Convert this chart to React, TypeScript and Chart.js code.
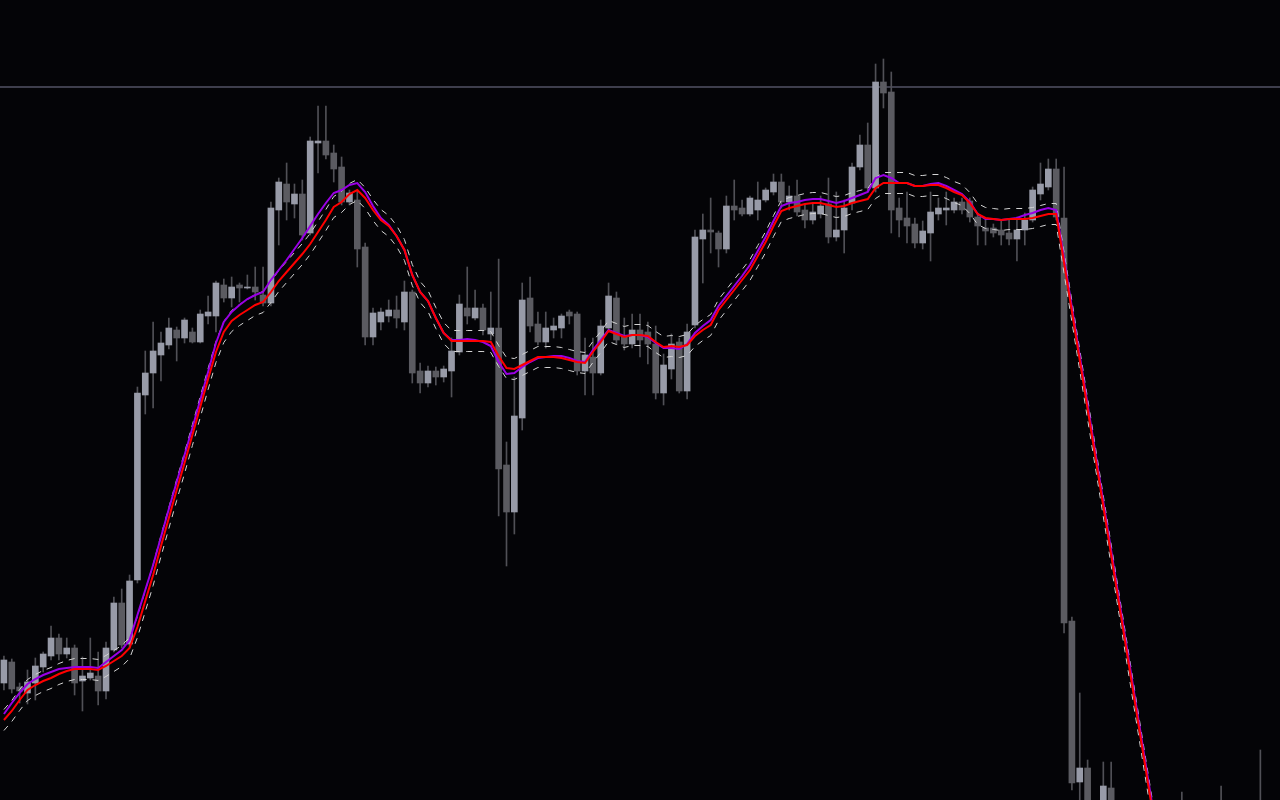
import React, { useEffect, useRef } from "react";
import { Chart, registerables } from "chart.js";

Chart.register(...registerables);

// ---- Data (price in chart points; 163 bars) ----
const OPEN: number[] = [
  117, 138, 113, 107, 117, 133, 144, 162, 146, 152,
  119, 122, 124, 109, 150, 197, 156, 220, 405, 427,
  445, 455, 470, 462, 468, 458, 484, 484, 515, 502,
  515, 512, 513, 505, 497, 590, 616, 596, 606, 567,
  657, 659, 647, 633, 598, 600, 553, 463, 478, 484,
  490, 478, 508, 429, 417, 429, 423, 429, 448, 492,
  482, 492, 466, 472, 335, 288, 382, 502, 476, 458,
  470, 472, 488, 486, 429, 443, 427, 472, 502, 464,
  456, 470, 468, 456, 407, 431, 458, 409, 475, 561,
  570, 567, 551, 594, 592, 586, 590, 600, 608, 618,
  598, 604, 590, 580, 586, 596, 563, 570, 597, 633,
  655, 612, 718, 708, 592, 582, 576, 557, 567, 586,
  590, 590, 598, 599, 583, 572, 572, 570, 567, 561,
  570, 580, 606, 613, 631, 582, 179, 18, 32, -20,
  -15, 12, -18, -30, -22, -36, -28, -34, -26, -32,
  -20, -28, -18, -26, -16, -22, -12, -20, -14, -22,
  -12, -6, -16,
];

const CLOSE: number[] = [
  140, 111, 109, 118, 134, 146, 162, 146, 152, 117,
  124, 127, 109, 152, 197, 155, 219, 407, 427, 449,
  457, 472, 462, 480, 458, 486, 488, 517, 502, 513,
  512, 513, 508, 497, 592, 618, 598, 606, 565, 659,
  659, 645, 631, 598, 607, 551, 463, 487, 488, 490,
  482, 508, 427, 417, 429, 423, 431, 449, 496, 484,
  492, 470, 472, 331, 288, 384, 500, 474, 458, 472,
  474, 484, 484, 429, 445, 427, 474, 504, 460, 456,
  470, 460, 456, 407, 435, 456, 409, 468, 563, 570,
  568, 551, 594, 590, 586, 602, 600, 610, 618, 598,
  604, 588, 580, 588, 594, 563, 570, 592, 633, 655,
  612, 718, 707, 590, 580, 574, 557, 569, 588, 592,
  592, 598, 590, 583, 574, 569, 567, 565, 561, 570,
  580, 610, 616, 631, 583, 177, 17, 32, -10, -40,
  14, -15, -30, -22, -36, -28, -34, -26, -32, -20,
  -28, -18, -26, -16, -22, -12, -20, -14, -22, -12,
  -6, -16, -10,
];

const HIGH: number[] = [
  144, 141, 117, 130, 142, 148, 174, 166, 162, 155,
  143, 162, 148, 158, 203, 211, 225, 413, 449, 478,
  468, 482, 473, 482, 472, 490, 504, 519, 521, 523,
  517, 525, 533, 533, 598, 622, 637, 616, 620, 663,
  694, 694, 655, 643, 610, 610, 557, 492, 492, 500,
  504, 519, 510, 437, 434, 433, 434, 462, 505, 533,
  510, 496, 508, 541, 358, 423, 517, 523, 488, 488,
  482, 486, 490, 488, 462, 462, 480, 517, 508, 482,
  486, 486, 478, 474, 446, 466, 462, 476, 570, 586,
  602, 569, 604, 620, 600, 604, 618, 612, 626, 626,
  614, 620, 596, 596, 604, 622, 608, 600, 637, 665,
  677, 736, 741, 728, 602, 608, 582, 579, 608, 602,
  608, 602, 602, 602, 587, 581, 576, 580, 580, 583,
  587, 613, 637, 641, 641, 633, 183, 107, 40, -5,
  38, 38, -8, -12, -10, -15, -12, -18, -10, -14,
  8, -12, -6, -10, -4, 14, -2, -6, -2, -8,
  50, -2, -4,
];

const LOW: number[] = [
  110, 107, 97, 96, 100, 128, 140, 140, 142, 105,
  89, 120, 95, 101, 148, 152, 152, 217, 386, 392,
  419, 451, 439, 457, 457, 457, 476, 468, 498, 493,
  498, 511, 500, 494, 494, 555, 580, 582, 560, 565,
  627, 641, 618, 595, 595, 533, 455, 455, 470, 478,
  472, 470, 417, 407, 413, 415, 418, 403, 445, 476,
  480, 465, 460, 284, 234, 266, 370, 468, 455, 452,
  462, 462, 476, 425, 405, 405, 425, 468, 456, 450,
  452, 443, 436, 401, 395, 421, 407, 401, 472, 517,
  547, 533, 547, 580, 584, 584, 580, 598, 605, 592,
  590, 584, 572, 576, 582, 557, 559, 547, 590, 630,
  608, 608, 692, 567, 563, 557, 552, 551, 539, 580,
  575, 587, 586, 578, 555, 555, 563, 555, 555, 539,
  555, 578, 600, 610, 580, 167, 10, -5, -15, -50,
  -20, -25, -40, -48, -45, -50, -42, -52, -40, -46,
  -38, -42, -35, -40, -32, -36, -30, -34, -28, -36,
  -30, -24, -30,
];

// slow moving average (red)
const MA_SLOW: (number | null)[] = [
  80, 89, 100, 110, 115, 119, 122, 126, 129, 131,
  131, 131, 130, 134, 139, 144, 152, 173, 199, 225,
  254, 282, 310, 337, 365, 393, 421, 448, 468, 479,
  485, 490, 495, 498, 508, 519, 528, 537, 546, 556,
  568, 580, 593, 598, 606, 610, 602, 590, 580, 574,
  564, 550, 525, 508, 499, 482, 467, 459, 459, 459,
  459, 459, 458, 444, 432, 431, 435, 439, 443, 443,
  443, 442, 440, 438, 437, 448, 458, 469, 466, 463,
  465, 465, 464, 458, 453, 454, 453, 455, 464, 470,
  475, 490, 500, 510, 520, 530, 544, 558, 574, 589,
  592, 594, 596, 597, 597, 595, 593, 594, 597, 599,
  601, 612, 617, 617, 617, 617, 614, 614, 615, 615,
  612, 608, 605, 597, 586, 582, 581, 580, 581, 581,
  581, 582, 584, 586, 586, null, null, null, null, null,
  null, null, null, null, null, null, null, null, null, null,
  null, null, null, null, null, null, null, null, null, null,
  null, null, -778,
];

// fast moving average (purple)
const MA_FAST: (number | null)[] = [
  86, 97, 107, 116, 121, 125, 128, 131, 132, 133,
  133, 133, 132, 138, 144, 150, 160, 185, 210, 235,
  263, 291, 318, 345, 372, 400, 428, 457, 478, 488,
  495, 501, 505, 508, 520, 530, 540, 551, 562, 574,
  586, 597, 607, 610, 615, 617, 608, 594, 582, 575,
  564, 550, 525, 508, 499, 482, 467, 460, 460, 461,
  460, 458, 454, 438, 426, 427, 433, 438, 442, 443,
  444, 444, 442, 439, 438, 450, 460, 470, 467, 464,
  465, 465, 463, 457, 452, 452, 451, 456, 467, 474,
  480, 494, 504, 514, 524, 535, 549, 563, 579, 594,
  597, 598, 600, 601, 601, 599, 597, 599, 602, 605,
  608, 622, 625, 622, 617, 617, 614, 614, 616, 617,
  614, 610, 606, 598, 586, 581, 581, 580, 581, 582,
  585, 587, 590, 592, 590, null, null, null, null, null,
  null, null, null, null, null, null, null, null, null, null,
  null, null, null, null, null, null, null, null, null, null,
  null, null, -772,
];

const ENVELOPE_WIDTH = 10.5; // envelope distance around the slow average
const LEVEL_PRICE = 713; // horizontal level line

const LABELS: string[] = OPEN.map((_, i) => `${i + 1}`);

// ---- Styles ----
const BG = "#040407";
const UP_COLOR = "#989ba8";
const DOWN_COLOR = "#5b5b61";
const WICK_COLOR = "#505056";
const SLOW_COLOR = "#ff0000";
const FAST_COLOR = "#9a00e6";
const ENV_COLOR = "#d4d4d4";
const LEVEL_COLOR = "#3e3e4c";

export default function App() {
  const canvasRef = useRef<HTMLCanvasElement | null>(null);

  useEffect(() => {
    const canvas = canvasRef.current;
    if (!canvas) return;

    const envUpper = MA_SLOW.map((v) => (v === null ? null : v + ENVELOPE_WIDTH));
    const envLower = MA_SLOW.map((v) => (v === null ? null : v - ENVELOPE_WIDTH));
    const bodies = OPEN.map((o, i) => [o, CLOSE[i]]);
    const wicks = LOW.map((l, i) => [l, HIGH[i]]);
    const bodyColors = OPEN.map((o, i) => (CLOSE[i] >= o ? UP_COLOR : DOWN_COLOR));

    const lineBase = {
      type: "line" as const,
      pointRadius: 0,
      pointHoverRadius: 0,
      tension: 0,
      spanGaps: true,
      fill: false,
    };

    const chart = new Chart(canvas, {
      type: "bar",
      data: {
        labels: LABELS,
        datasets: [
          {
            ...lineBase,
            label: "MA slow",
            data: MA_SLOW,
            borderColor: SLOW_COLOR,
            borderWidth: 2,
            order: 1,
          } as any,
          {
            ...lineBase,
            label: "MA fast",
            data: MA_FAST,
            borderColor: FAST_COLOR,
            borderWidth: 2,
            order: 2,
          } as any,
          {
            ...lineBase,
            label: "Envelope upper",
            data: envUpper,
            borderColor: ENV_COLOR,
            borderWidth: 1,
            borderDash: [6, 6],
            order: 3,
          } as any,
          {
            ...lineBase,
            label: "Envelope lower",
            data: envLower,
            borderColor: ENV_COLOR,
            borderWidth: 1,
            borderDash: [6, 6],
            order: 3,
          } as any,
          {
            type: "bar",
            label: "Body",
            data: bodies as any,
            backgroundColor: bodyColors,
            borderWidth: 0,
            barThickness: 6,
            grouped: false,
            order: 4,
          } as any,
          {
            type: "bar",
            label: "Wick",
            data: wicks as any,
            backgroundColor: WICK_COLOR,
            borderWidth: 0,
            barThickness: 1,
            grouped: false,
            order: 5,
          } as any,
        ],
      },
      options: {
        animation: false,
        responsive: false,
        maintainAspectRatio: false,
        devicePixelRatio: 1,
        layout: { padding: 0 },
        plugins: {
          legend: { display: false },
          tooltip: { enabled: false },
        },
        events: [],
        scales: {
          x: {
            type: "category",
            display: false,
            offset: true,
            grid: { display: false },
          },
          y: {
            min: 0,
            max: 800,
            display: true,
            ticks: { display: false },
            border: { display: false },
            grid: { color: LEVEL_COLOR, lineWidth: 2, drawTicks: false },
            afterBuildTicks: (axis: any) => {
              axis.ticks = [{ value: LEVEL_PRICE }];
            },
            afterFit: (axis: any) => {
              axis.width = 0;
            },
          },
        },
      } as any,
    });

    return () => chart.destroy();
  }, []);

  return (
    <div
      style={{
        position: "fixed",
        left: 0,
        top: 0,
        width: 1280,
        height: 800,
        background: BG,
        overflow: "hidden",
      }}
    >
      <canvas ref={canvasRef} width={1280} height={800} style={{ display: "block" }} />
    </div>
  );
}
